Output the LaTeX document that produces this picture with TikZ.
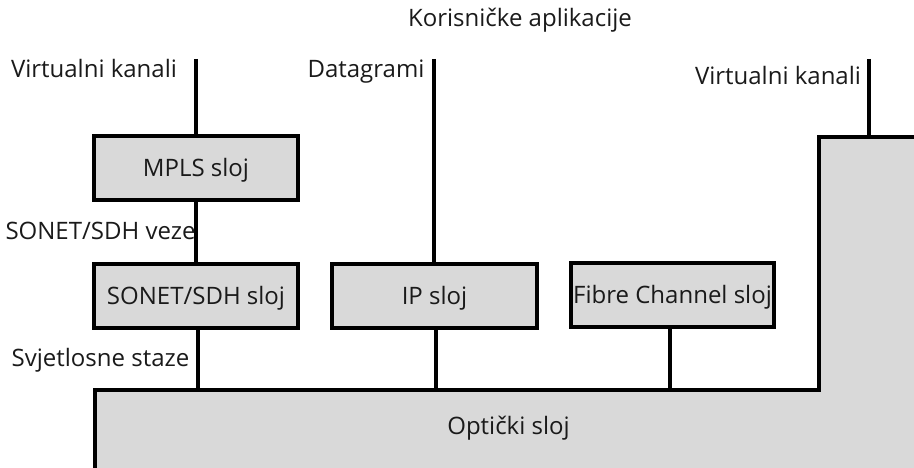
\documentclass[tikz,border=0pt]{standalone}
\usepackage{fontspec}
\setmainfont{Open Sans}
\definecolor{boxgray}{HTML}{D9D9D9}
\definecolor{txt}{HTML}{1A1A1A}
\begin{document}
\begin{tikzpicture}[x=1pt,y=-1pt,
  every node/.style={font=\fontsize{24}{28}\selectfont, text=txt, inner sep=0pt},
  lbl/.style={anchor=base},
  layer/.style={draw=black, line width=4pt, fill=boxgray, minimum width=204pt, minimum height=64pt, text height=17pt, text depth=0pt},
  conn/.style={draw=black, line width=4pt}]
\useasboundingbox (0,0) rectangle (914,468);
% optical layer shape
\fill[boxgray] (95,472) -- (95,390) -- (819,390) -- (819,137) -- (918,137) -- (918,472) -- cycle;
\draw[line width=4pt] (95,472) -- (95,390) -- (819,390) -- (819,137) -- (918,137);
\node[lbl] (opt) at (508.5,434) {Optički sloj};
\coordinate (o1) at (198,390);
\coordinate (o2) at (436,390);
\coordinate (o3) at (670,390);
\coordinate (o4) at (869,137);
% boxes
\node[layer] (mpls) at (196,168) {MPLS sloj};
\node[layer] (sonet) at (196,296) {SONET/SDH sloj};
\node[layer, minimum width=205pt] (ip) at (434.5,296) {IP sloj};
\node[layer, minimum width=203pt] (fc) at (672.5,295) {Fibre Channel sloj};
% top ends
\coordinate (t1) at (196,59);
\coordinate (t2) at (434,59);
\coordinate (t3) at (869,59);
% connectors
\draw[conn] (t1) -- (mpls.north);
\draw[conn] (mpls.south) -- (sonet.north);
\draw[conn] (sonet.south -| o1) -- (o1);
\draw[conn] (t2) -- (ip.north -| t2);
\draw[conn] (ip.south -| o2) -- (o2);
\draw[conn] (fc.south -| o3) -- (o3);
\draw[conn] (t3) -- (o4);
% labels
\node[lbl] (app) at (520,27) {Korisničke aplikacije};
\node[lbl] (vk1) at (94,78) {Virtualni kanali};
\node[lbl] (dg) at (366,78) {Datagrami};
\node[lbl] (vk2) at (778,85) {Virtualni kanali};
\node[lbl] (sv) at (100.5,240) {SONET/SDH veze};
\node[lbl] (ss) at (100.5,366) {Svjetlosne staze};
\end{tikzpicture}
\end{document}
